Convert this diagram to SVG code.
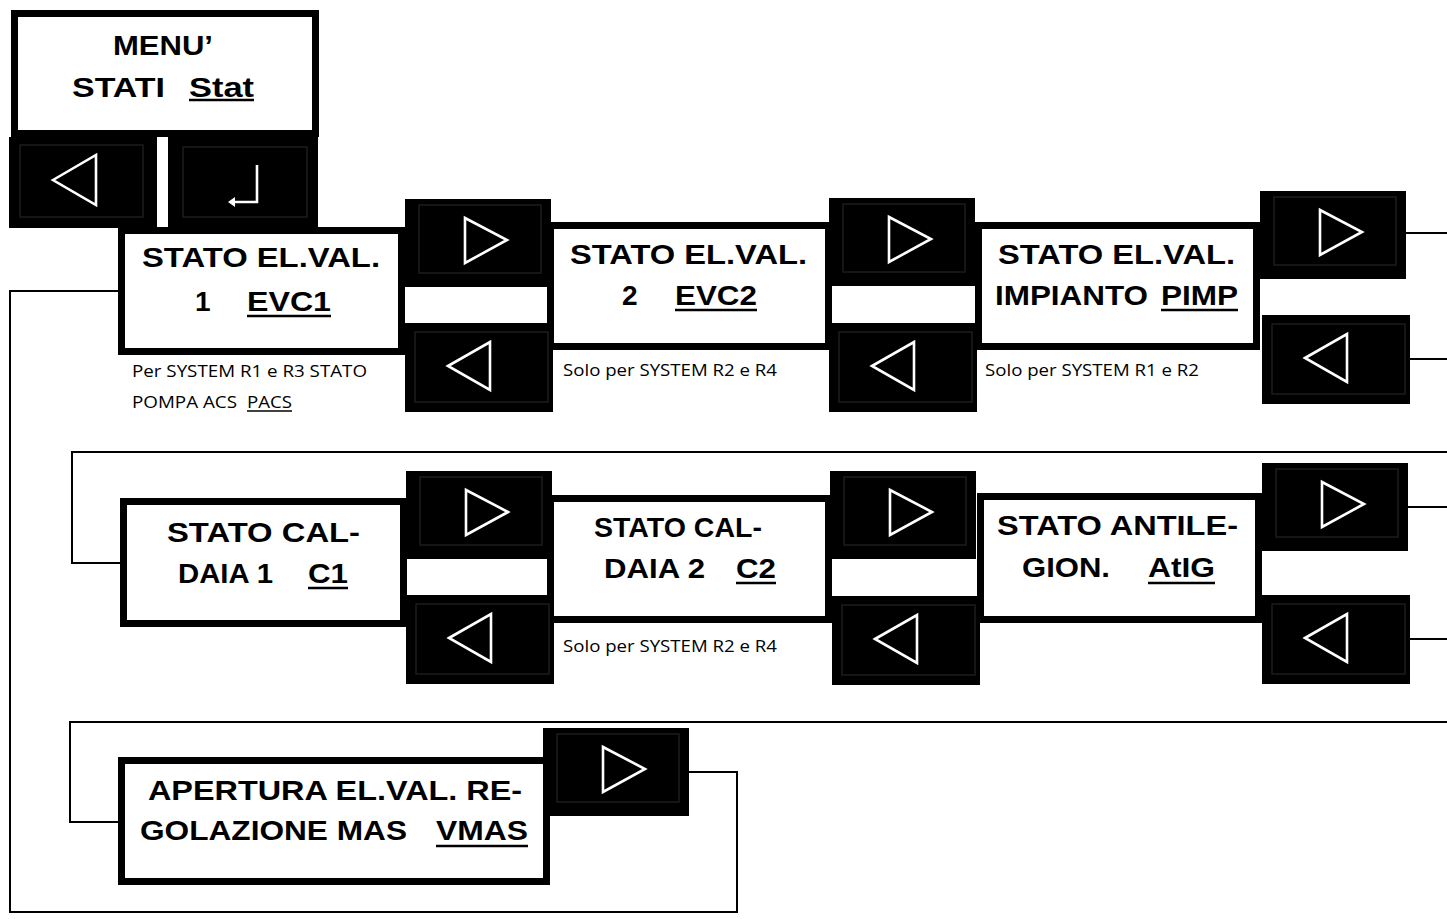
<svg xmlns="http://www.w3.org/2000/svg" xmlns:xlink="http://www.w3.org/1999/xlink" width="1447" height="919" viewBox="0 0 1447 919">
<style>
.box{fill:#fff;stroke:#000;stroke-width:7}
.conn{fill:none;stroke:#000;stroke-width:2}
.t{font-family:"Liberation Sans",Arial,sans-serif;font-weight:bold;font-size:28px;fill:#000}
.s{font-family:"Open Sans","Noto Sans",sans-serif;font-size:17px;fill:#000}
.ul{stroke:#000;stroke-width:2.6}
.uls{stroke:#000;stroke-width:1.3}
.bk{fill:#000}
.in{fill:none;stroke:#1c1c1c;stroke-width:1.5}
.tri{fill:none;stroke:#fff;stroke-width:2.6;stroke-linejoin:miter}
</style>
<defs>
<g id="btnR">
<rect class="bk" x="0" y="0" width="146" height="88"/>
<rect class="in" x="14" y="6" width="122" height="68"/>
<polygon class="tri" points="60,19 60,64 102,41"/>
</g>
<g id="btnL">
<rect class="bk" x="0" y="0" width="148" height="89"/>
<rect class="in" x="10" y="9" width="133" height="70"/>
<polygon class="tri" points="43,43 85,19 85,67"/>
</g>
</defs>
<rect width="1447" height="919" fill="#fff"/>
<g id="connectors">
<polyline class="conn" points="118,291 10,291 10,912 737,912 737,772 688,772"/>
<line class="conn" x1="1405" y1="233" x2="1447" y2="233"/>
<line class="conn" x1="1408" y1="359" x2="1447" y2="359"/>
<polyline class="conn" points="1447,452 72,452 72,563 122,563"/>
<line class="conn" x1="1406" y1="507" x2="1447" y2="507"/>
<line class="conn" x1="1408" y1="639" x2="1447" y2="639"/>
<polyline class="conn" points="1447,722 70,722 70,822 120,822"/>
</g>
<g id="menu">
<rect class="box" x="14.5" y="13.5" width="301" height="120"/>
<text class="t" x="113" y="55" textLength="100" lengthAdjust="spacingAndGlyphs">MENU’</text>
<text class="t" x="72" y="97" textLength="93" lengthAdjust="spacingAndGlyphs">STATI</text>
<text class="t" x="189" y="97" textLength="65" lengthAdjust="spacingAndGlyphs">Stat</text>
<line class="ul" x1="189" y1="100" x2="254" y2="100"/>
</g>
<g id="menu-back">
<rect class="bk" x="9" y="137" width="148" height="91"/>
<rect class="in" x="20" y="145" width="123" height="72"/>
<polygon class="tri" points="53,180 96,155 96,205"/>
</g>
<g id="menu-enter">
<rect class="bk" x="168" y="137" width="150" height="91"/>
<rect class="in" x="183" y="147" width="124" height="70"/>
<polyline fill="none" stroke="#fff" stroke-width="2.6" points="257,165 257,202 234,202"/>
<polygon fill="#fff" points="228,202 235,197 235,207"/>
</g>
<g id="node-evc1">
<rect class="box" x="121.5" y="230.5" width="280" height="121"/>
<text class="t" x="142" y="267" textLength="238" lengthAdjust="spacingAndGlyphs">STATO EL.VAL.</text>
<text class="t" x="195" y="311">1</text>
<text class="t" x="247" y="311" textLength="84" lengthAdjust="spacingAndGlyphs">EVC1</text>
<line class="ul" x1="247" y1="316" x2="331" y2="316"/>
<text class="s" x="132" y="377" textLength="235" lengthAdjust="spacingAndGlyphs">Per SYSTEM R1 e R3 STATO</text>
<text class="s" x="132" y="408" textLength="105" lengthAdjust="spacingAndGlyphs">POMPA ACS</text>
<text class="s" x="247" y="408" textLength="45" lengthAdjust="spacingAndGlyphs">PACS</text>
<line class="uls" x1="247" y1="411" x2="292" y2="411"/>
</g>
<g id="node-evc2">
<rect class="box" x="550.5" y="225.5" width="278" height="121"/>
<text class="t" x="570" y="264" textLength="237" lengthAdjust="spacingAndGlyphs">STATO EL.VAL.</text>
<text class="t" x="622" y="305">2</text>
<text class="t" x="675" y="305" textLength="82" lengthAdjust="spacingAndGlyphs">EVC2</text>
<line class="ul" x1="675" y1="310" x2="757" y2="310"/>
<text class="s" x="563" y="376" textLength="214" lengthAdjust="spacingAndGlyphs">Solo per SYSTEM R2 e R4</text>
</g>
<g id="node-pimp">
<rect class="box" x="978.5" y="225.5" width="278" height="121"/>
<text class="t" x="998" y="264" textLength="237" lengthAdjust="spacingAndGlyphs">STATO EL.VAL.</text>
<text class="t" x="995" y="305" textLength="153" lengthAdjust="spacingAndGlyphs">IMPIANTO</text>
<text class="t" x="1161" y="305" textLength="77" lengthAdjust="spacingAndGlyphs">PIMP</text>
<line class="ul" x1="1161" y1="310" x2="1238" y2="310"/>
<text class="s" x="985" y="376" textLength="214" lengthAdjust="spacingAndGlyphs">Solo per SYSTEM R1 e R2</text>
</g>
<g id="node-c1">
<rect class="box" x="123.5" y="501.5" width="280" height="122"/>
<text class="t" x="167" y="542" textLength="193" lengthAdjust="spacingAndGlyphs">STATO CAL-</text>
<text class="t" x="178" y="583" textLength="95" lengthAdjust="spacingAndGlyphs">DAIA 1</text>
<text class="t" x="308" y="583" textLength="40" lengthAdjust="spacingAndGlyphs">C1</text>
<line class="ul" x1="308" y1="588" x2="348" y2="588"/>
</g>
<g id="node-c2">
<rect class="box" x="550.5" y="498.5" width="278" height="121"/>
<text class="t" x="594" y="537" textLength="168" lengthAdjust="spacingAndGlyphs">STATO CAL-</text>
<text class="t" x="604" y="578" textLength="101" lengthAdjust="spacingAndGlyphs">DAIA 2</text>
<text class="t" x="736" y="578" textLength="40" lengthAdjust="spacingAndGlyphs">C2</text>
<line class="ul" x1="736" y1="583" x2="776" y2="583"/>
<text class="s" x="563" y="652" textLength="214" lengthAdjust="spacingAndGlyphs">Solo per SYSTEM R2 e R4</text>
</g>
<g id="node-atig">
<rect class="box" x="980.5" y="496.5" width="278" height="123"/>
<text class="t" x="997" y="535" textLength="241" lengthAdjust="spacingAndGlyphs">STATO ANTILE-</text>
<text class="t" x="1022" y="577" textLength="88" lengthAdjust="spacingAndGlyphs">GION.</text>
<text class="t" x="1148" y="577" textLength="67" lengthAdjust="spacingAndGlyphs">AtIG</text>
<line class="ul" x1="1148" y1="583" x2="1215" y2="583"/>
</g>
<g id="node-vmas">
<rect class="box" x="121.5" y="760.5" width="425" height="121"/>
<text class="t" x="148" y="800" textLength="374" lengthAdjust="spacingAndGlyphs">APERTURA EL.VAL. RE-</text>
<text class="t" x="140" y="840" textLength="267" lengthAdjust="spacingAndGlyphs">GOLAZIONE MAS</text>
<text class="t" x="436" y="840" textLength="92" lengthAdjust="spacingAndGlyphs">VMAS</text>
<line class="ul" x1="436" y1="846" x2="528" y2="846"/>
</g>
<g id="buttons">
<use xlink:href="#btnR" x="405" y="199"/>
<use xlink:href="#btnL" x="405" y="323"/>
<use xlink:href="#btnR" x="829" y="198"/>
<use xlink:href="#btnL" x="829" y="323"/>
<use xlink:href="#btnR" x="1260" y="191"/>
<use xlink:href="#btnL" x="1262" y="315"/>
<use xlink:href="#btnR" x="406" y="471"/>
<use xlink:href="#btnL" x="406" y="595"/>
<use xlink:href="#btnR" x="830" y="471"/>
<use xlink:href="#btnL" x="832" y="596"/>
<use xlink:href="#btnR" x="1262" y="463"/>
<use xlink:href="#btnL" x="1262" y="595"/>
<use xlink:href="#btnR" x="543" y="728"/>
</g>
</svg>
